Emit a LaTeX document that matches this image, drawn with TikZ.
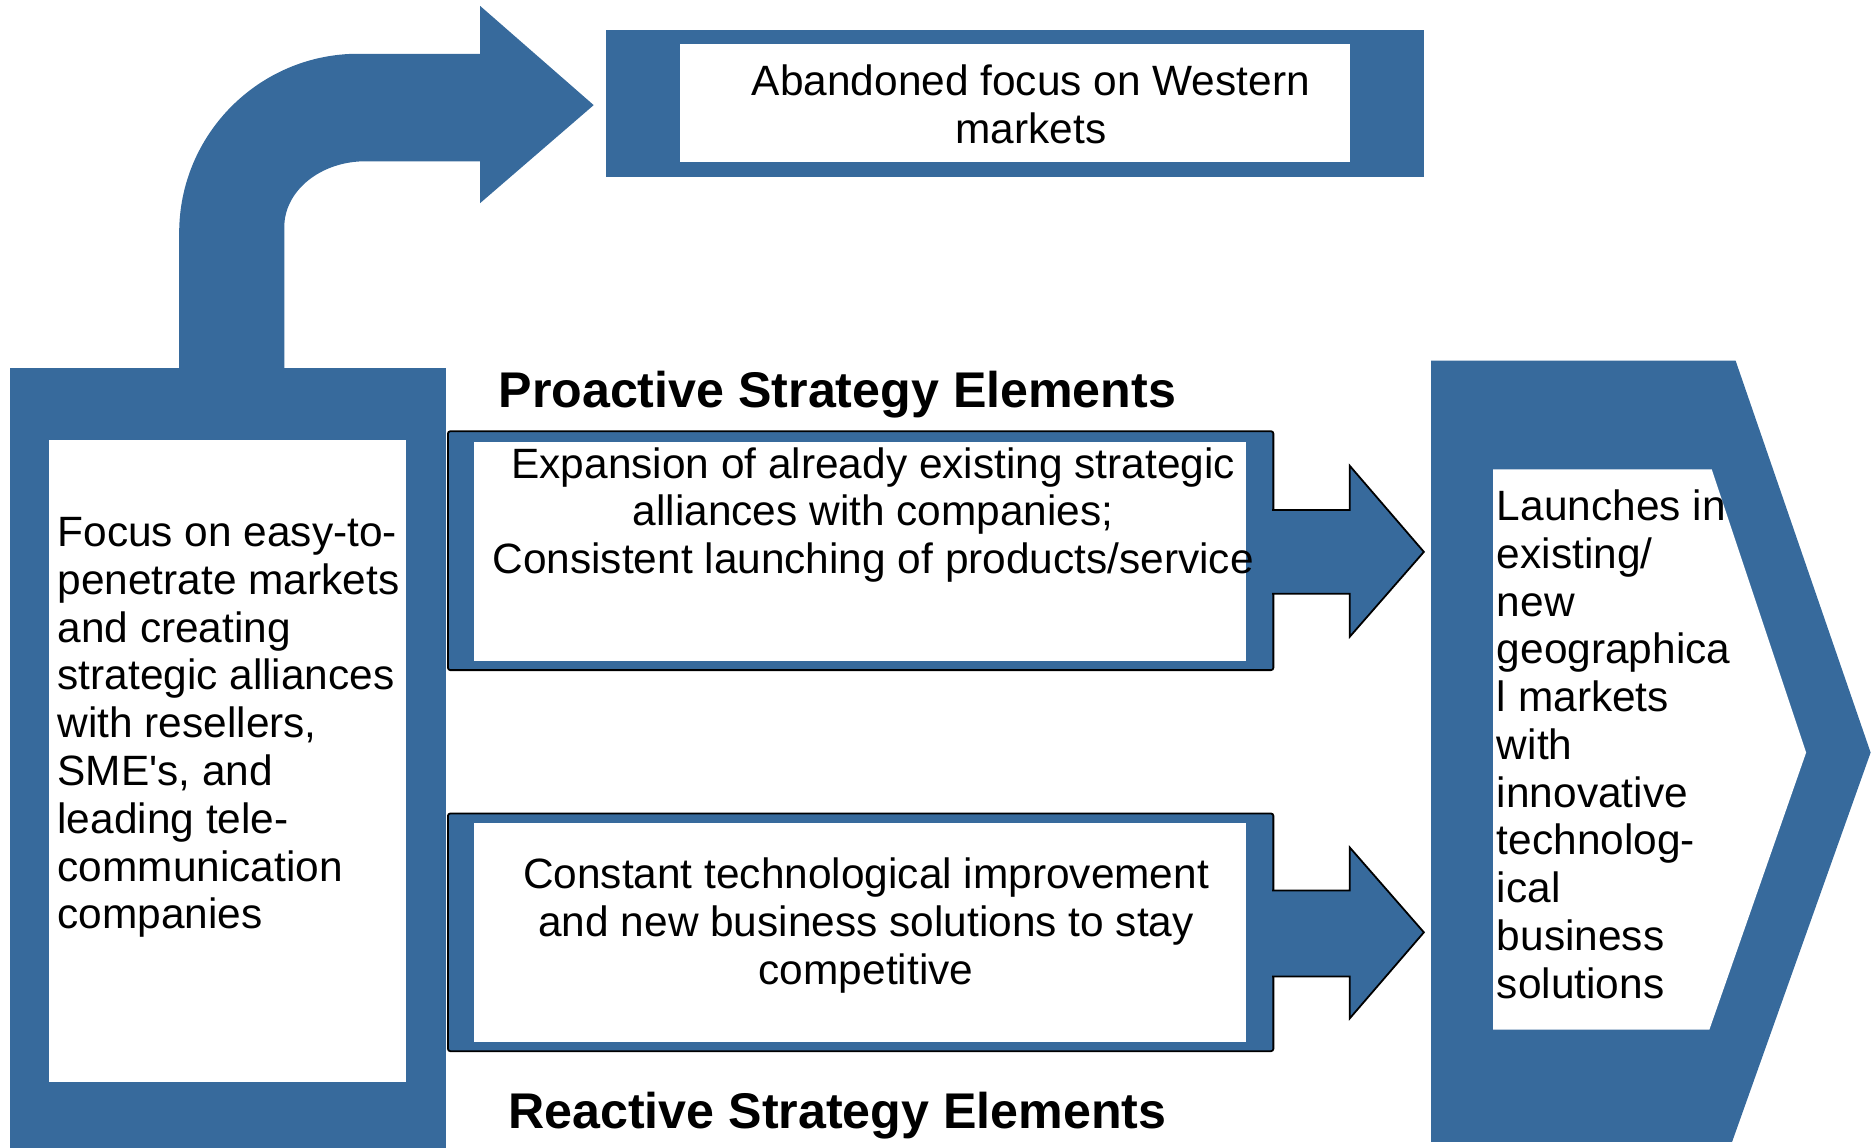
\documentclass[tikz,border=0pt]{standalone}
\usepackage{fontspec}
\setmainfont{Liberation Sans}[Ligatures=TeXOff]
\usetikzlibrary{calc}
\definecolor{stratblue}{HTML}{376A9C}
\begin{document}
\begin{tikzpicture}[x=1pt,y=-1pt,
  body/.style={font=\fontsize{35.5}{40}\selectfont, text=black, inner sep=0pt},
  heading/.style={font=\fontsize{42}{48}\selectfont\bfseries, text=black, inner sep=0pt},
  blueframe/.style={fill=stratblue, draw=none, inner sep=0pt, outer sep=0pt},
  outlinedframe/.style={fill=stratblue, draw=black, line width=1.5pt, rounded corners=2pt, inner sep=0pt, outer sep=0pt},
  whitepanel/.style={fill=white, draw=none, inner sep=0pt, outer sep=0pt},
  blockarrow/.style={fill=stratblue, draw=black, line width=1.5pt, line join=miter},
]
\useasboundingbox (0,0) rectangle (1568,961);

% curved arrow rising from the left column towards the top box
\fill[stratblue] (150,312) -- (150,195)
  arc[start angle=180, end angle=270, radius=150]
  -- (402,45) -- (402,5) -- (497,88) -- (402,170) -- (402,135) -- (306,135)
  arc[start angle=270, end angle=180, x radius=68, y radius=55]
  -- (238,312) -- cycle;

% top box
\node[blueframe, minimum width=685, minimum height=123] (westframe) at (849.5,86.5) {};
\node[whitepanel, minimum width=561, minimum height=99] (westpanel) at (849.5,86.5) {};
\node[body, align=center] (westtext) at (863,87.5) {Abandoned focus on Western\\markets};

% left column
\node[blueframe, minimum width=365, minimum height=655, anchor=north west] (focusframe) at (8,308) {};
\node[whitepanel, minimum width=299, minimum height=538, anchor=north west] (focuspanel) at (41,368) {};
\node[body, align=left, anchor=west] (focustext) at (48,609)
  {Focus on easy-to-\\penetrate markets\\and creating\\strategic alliances\\with resellers,\\SME's, and\\leading tele-\\communication\\companies};

% headings
\node[heading] (protitle) at (701,330) {Proactive Strategy Elements};
\node[heading] (reacttitle) at (701,934) {Reactive Strategy Elements};

% proactive box
\node[outlinedframe, minimum width=691, minimum height=200] (proframe) at (720.5,461) {};
\node[whitepanel, minimum width=646, minimum height=183] (propanel) at (720,461.5) {};
\node[body, align=center] (protext) at (731,431)
  {Expansion of already existing strategic\\alliances with companies;\\Consistent launching of products/service};

% reactive box
\node[outlinedframe, minimum width=691, minimum height=199] (reactframe) at (720.5,780.5) {};
\node[whitepanel, minimum width=646, minimum height=183] (reactpanel) at (720,780.5) {};
\node[body, align=center] (reacttext) at (725,775)
  {Constant technological improvement\\and new business solutions to stay\\competitive};

% block arrows leaving the two boxes
\begin{scope}[shift={(proframe.east)}]
  \filldraw[blockarrow] (-1,-34) -- (64,-34) -- (64,-71) -- (126,1) -- (64,72) -- (64,36) -- (-1,36);
\end{scope}
\begin{scope}[shift={(reactframe.east)}]
  \filldraw[blockarrow] (-1,-35) -- (64,-35) -- (64,-71) -- (126,0) -- (64,72) -- (64,37) -- (-1,37);
\end{scope}

% chevron on the right
\fill[stratblue] (1198,302) -- (1453,302) -- (1566,630) -- (1450,956) -- (1198,956) -- cycle;
\fill[white] (1250,393) -- (1433,393) -- (1512,630) -- (1431,862) -- (1250,862) -- cycle;
\node[body, align=left, anchor=west] (launchtext) at (1253,623)
  {Launches in\\existing/\\new\\geographica\\l markets\\with\\innovative\\technolog-\\ical\\business\\solutions};
\end{tikzpicture}
\end{document}
